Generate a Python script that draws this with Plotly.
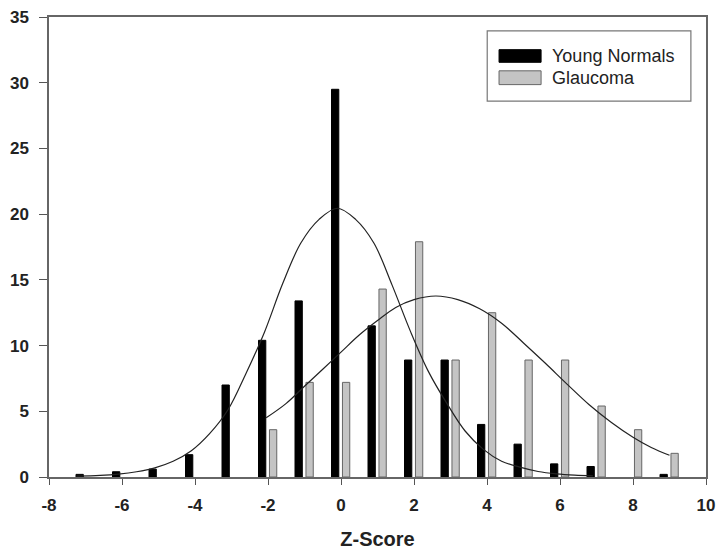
import plotly.graph_objects as go

# ---- data ----
z_bins = [-7, -6, -5, -4, -3, -2, -1, 0, 1, 2, 3, 4, 5, 6, 7, 8, 9]
young_normals = [0.2, 0.4, 0.6, 1.7, 7.0, 10.4, 13.4, 29.5, 11.5, 8.9, 8.9, 4.0, 2.5, 1.0, 0.8, None, 0.2]
glaucoma = [None, None, None, None, None, 3.6, 7.2, 7.2, 14.3, 17.9, 8.9, 12.5, 8.9, 8.9, 5.4, 3.6, 1.8]

young_fit_x = [-7.25, -6.6, -6.1, -5.6, -5.1, -4.6, -4.1, -3.6, -3.1, -2.6, -2.1, -1.6, -1.1, -0.6,
               -0.1, 0.4, 0.9, 1.4, 1.9, 2.4, 2.9, 3.4, 3.9, 4.4, 4.9, 5.4, 5.9, 6.4, 6.9]
young_fit_y = [0.06, 0.12, 0.22, 0.4, 0.7, 1.2, 2.0, 3.3, 5.1, 7.9, 11.0, 14.7, 17.8, 19.6,
               20.45, 19.6, 17.8, 14.6, 11.1, 8.0, 5.6, 3.5, 2.1, 1.2, 0.75, 0.42, 0.24, 0.14, 0.09]

glaucoma_fit_x = [-2.05, -1.5, -1.0, -0.5, 0.0, 0.5, 1.0, 1.5, 2.0, 2.6, 3.2, 3.8, 4.4, 5.0,
                  5.6, 6.2, 6.8, 7.4, 8.0, 8.5, 9.0]
glaucoma_fit_y = [4.5, 5.6, 6.9, 8.2, 9.5, 10.8, 11.9, 12.9, 13.5, 13.77, 13.5, 12.8, 11.7, 10.2,
                  8.65, 7.05, 5.5, 4.17, 3.03, 2.25, 1.65]

x_ticks = [-8, -6, -4, -2, 0, 2, 4, 6, 8, 10]
x_tick_labels = ["-8", "-6", "-4", "-2", "0", "2", "4", "6", "8", "10"]
y_ticks = [0, 5, 10, 15, 20, 25, 30, 35]
y_tick_labels = ["0", "5", "10", "15", "20", "25", "30", "35"]
series_names = ["Young Normals", "Glaucoma"]

# ---- figure ----
fig = go.Figure()
fig.add_trace(go.Bar(x=z_bins, y=young_normals, name=series_names[0],
                     width=0.2, offset=-0.26,
                     marker=dict(color="#000000", line=dict(color="#000000", width=1)),
                     showlegend=False))
fig.add_trace(go.Bar(x=z_bins, y=glaucoma, name=series_names[1],
                     width=0.2, offset=0.04,
                     marker=dict(color="#c4c4c4", line=dict(color="#666666", width=1)),
                     showlegend=False))
fig.add_trace(go.Scatter(x=young_fit_x, y=young_fit_y, mode="lines",
                         line=dict(color="#222222", width=1.2, shape="spline"),
                         showlegend=False, hoverinfo="skip"))
fig.add_trace(go.Scatter(x=glaucoma_fit_x, y=glaucoma_fit_y, mode="lines",
                         line=dict(color="#222222", width=1.2, shape="spline"),
                         showlegend=False, hoverinfo="skip"))

tickfont = dict(family="Liberation Sans, Arial, sans-serif", size=17, color="#222222", weight="bold")

fig.update_xaxes(range=[-8, 10], tickvals=x_ticks, ticktext=x_tick_labels, ticks="outside",
                 ticklen=6, tickwidth=1, automargin=False,
                 tickcolor="#555555", showline=True, linecolor="#666666", linewidth=1.5,
                 mirror=True, showgrid=False, zeroline=False, tickfont=tickfont,
                 ticklabelstandoff=6,
                 title=dict(text="Z-Score", standoff=18,
                            font=dict(family="Liberation Sans, Arial, sans-serif", size=20,
                                      color="#222222", weight="bold")))
fig.update_yaxes(range=[0, 35], tickvals=y_ticks, ticktext=y_tick_labels, ticks="outside",
                 ticklen=8, tickwidth=1, automargin=False,
                 tickcolor="#555555", showline=True, linecolor="#666666", linewidth=1.5,
                 mirror=True, showgrid=False, zeroline=False, tickfont=tickfont,
                 ticklabelstandoff=7)

# legend drawn as box + swatches + text
legend_font = dict(family="Liberation Sans, Arial, sans-serif", size=18, color="#222222")
shapes = [
    dict(type="rect", xref="paper", yref="paper", x0=0.667, x1=0.977, y0=0.817, y1=0.970,
         line=dict(color="#777777", width=1.2), fillcolor="white"),
    dict(type="rect", xref="paper", yref="paper", x0=0.685, x1=0.749, y0=0.9015, y1=0.929,
         line=dict(color="#000000", width=1), fillcolor="#000000"),
    dict(type="rect", xref="paper", yref="paper", x0=0.685, x1=0.749, y0=0.853, y1=0.883,
         line=dict(color="#666666", width=1), fillcolor="#c4c4c4"),
]
annotations = [
    dict(xref="paper", yref="paper", x=0.762, y=0.915, text=series_names[0], showarrow=False,
         xanchor="left", yanchor="middle", font=legend_font),
    dict(xref="paper", yref="paper", x=0.762, y=0.868, text=series_names[1], showarrow=False,
         xanchor="left", yanchor="middle", font=legend_font),
]

fig.update_layout(width=720, height=553, paper_bgcolor="white", plot_bgcolor="white",
                  margin=dict(l=49, r=14, t=17, b=76), barmode="overlay",
                  shapes=shapes, annotations=annotations, showlegend=False)

fig.write_html("out.html", config={"displayModeBar": False},
               post_script="document.body.style.margin='0';document.body.style.overflow='hidden';")
